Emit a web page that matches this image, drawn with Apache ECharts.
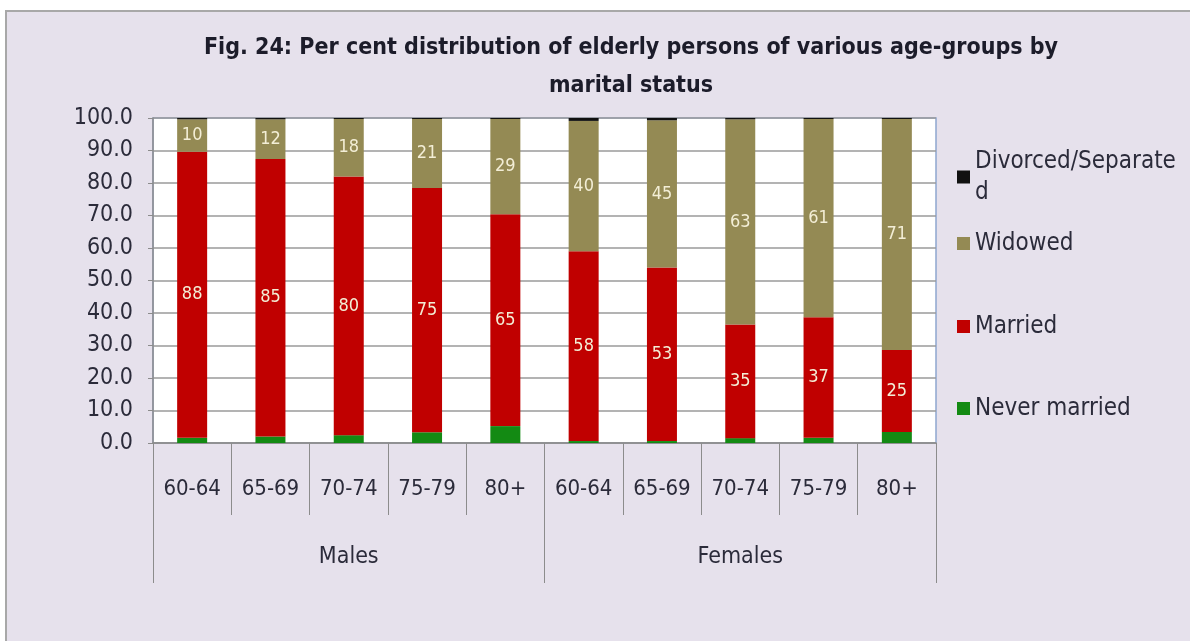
<!DOCTYPE html>
<html>
<head>
<meta charset="utf-8">
<script src="https://cdn.jsdelivr.net/npm/echarts@6/dist/echarts.min.js"></script>
<style>
  html, body { margin: 0; padding: 0; background: #fff; }
  #frame {
    position: absolute; left: 5px; top: 10px; width: 1185px; height: 631px;
    background: #e6e1ec; border-top: 2px solid #a8a8a8; border-left: 2px solid #a8a8a8;
    box-sizing: border-box;
  }
  #chart { position: absolute; left: 0; top: 0; width: 1190px; height: 641px; }
</style>
</head>
<body>
<div id="frame"></div>
<div id="chart"></div>
<script>
(function() {
    // 分类
    var ageGroups = ["60-64", "65-69", "70-74", "75-79", "80+", "60-64", "65-69", "70-74", "75-79", "80+"];
    var sexGroups = ["Males", "Females"];
    var yTicks = [0, 10, 20, 30, 40, 50, 60, 70, 80, 90, 100];

    // 各婚姻状况百分比
    var neverMarried = [1.6, 2.0, 2.4, 3.3, 5.2, 0.6, 0.6, 1.5, 1.6, 3.4];
    var married = [88.0, 85.4, 79.6, 75.2, 65.2, 58.4, 53.4, 35.0, 37.1, 25.2];
    var widowed = [10.0, 12.2, 17.7, 21.2, 29.3, 40.1, 45.3, 63.1, 61.0, 71.1];
    var divorced = [0.4, 0.4, 0.3, 0.3, 0.3, 0.9, 0.7, 0.4, 0.3, 0.3];

    var seriesNames = ["Never married", "Married", "Widowed", "Divorced/Separated"];
    var colors = ["#138a13", "#c00000", "#948a54", "#111111"];

    var font = "'DejaVu Sans Condensed', 'Open Sans', sans-serif";
    var txt = "#2b2b3a";

    var labelStyle = {
        show: true,
        position: "inside",
        color: "#f3eed6",
        fontSize: 18,
        fontFamily: font,
        formatter: function(p) { return Math.round(p.value); }
    };

    function makeSeries(name, data, color, withLabel) {
        return {
            name: name,
            type: "bar",
            stack: "all",
            barWidth: 30,
            data: data,
            itemStyle: { color: color },
            label: withLabel ? labelStyle : { show: false },
            emphasis: { disabled: true }
        };
    }

    // 图例：每项单独放置
    var legendTops = [141, 223, 306, 388];
    var legendOrder = ["Divorced/Separated", "Widowed", "Married", "Never married"];
    var legends = legendOrder.map(function(n, i) {
        return {
            data: [n],
            left: 952,
            top: legendTops[i],
            orient: "vertical",
            icon: "rect",
            itemWidth: 13,
            itemHeight: 13,
            itemGap: 4,
            selectedMode: false,
            textStyle: { fontSize: 24, color: txt, fontFamily: font, lineHeight: 31 },
            formatter: function(name) {
                return name === "Divorced/Separated" ? "Divorced/Separate\nd" : name;
            }
        };
    });

    var myChart = echarts.init(document.getElementById("chart"));
    var option = {
        animation: false,
        color: colors,
        title: {
            text: "Fig. 24: Per cent distribution of elderly persons of various age-groups by\nmarital status",
            left: 626,
            textAlign: "center",
            top: 24,
            textStyle: { fontSize: 23, fontWeight: "bold", color: "#1c1c2a", fontFamily: font, lineHeight: 38 }
        },
        legend: legends,
        grid: {
            left: 153,
            right: 254,
            top: 118,
            bottom: 198,
            show: true,
            backgroundColor: "#ffffff",
            borderColor: "#8ea6cf",
            borderWidth: 1.5
        },
        xAxis: [{
            type: "category",
            data: ageGroups,
            position: "bottom",
            axisLine: { lineStyle: { color: "#8c8c8c", width: 1.5 } },
            axisTick: { show: true, interval: 0, length: 72, lineStyle: { color: "#8c8c8c" } },
            axisLabel: { interval: 0, margin: 35, fontSize: 22, color: txt, fontFamily: font }
        }, {
            type: "category",
            data: sexGroups,
            position: "bottom",
            axisLine: { show: false },
            axisTick: { show: true, interval: 0, length: 140, lineStyle: { color: "#8c8c8c" } },
            axisLabel: { interval: 0, margin: 103, fontSize: 23, color: txt, fontFamily: font }
        }],
        yAxis: {
            type: "value",
            min: yTicks[0],
            max: yTicks[yTicks.length - 1],
            interval: 10,
            axisLine: { show: true, lineStyle: { color: "#8c8c8c", width: 1.5 } },
            axisTick: { show: true, length: 5, lineStyle: { color: "#8c8c8c" } },
            splitLine: { lineStyle: { color: "#9a9a9a", width: 1.5 } },
            axisLabel: {
                fontSize: 23, color: txt, fontFamily: font, margin: 20,
                formatter: function(v) { return v.toFixed(1); }
            }
        },
        series: [
            makeSeries(seriesNames[0], neverMarried, colors[0], false),
            makeSeries(seriesNames[1], married, colors[1], true),
            makeSeries(seriesNames[2], widowed, colors[2], true),
            makeSeries(seriesNames[3], divorced, colors[3], false)
        ]
    };
    myChart.setOption(option);
})();
</script>
</body>
</html>
